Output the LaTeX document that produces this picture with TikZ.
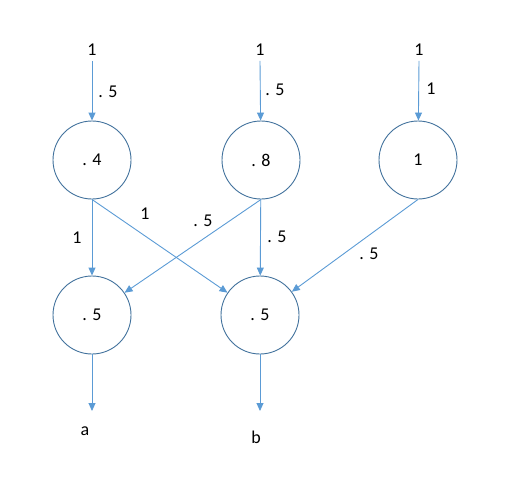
\documentclass[tikz,border=0pt]{standalone}
\usepackage{fontspec}
\setmainfont{Carlito}
\usetikzlibrary{arrows.meta}
\definecolor{circ}{HTML}{41719C}
\definecolor{arr}{HTML}{5B9BD5}
\begin{document}
\begin{tikzpicture}[x=1pt,y=-1pt,
  neuron/.style={circle,draw=circ,line width=0.9pt,minimum size=78pt,inner sep=0pt,font=\fontsize{18}{20}\selectfont},
  lbl/.style={inner sep=0pt,font=\fontsize{18}{20}\selectfont},
  conn/.style={draw=arr,line width=0.9pt,-{Triangle[length=8pt,width=7pt]}}]
\useasboundingbox (0,0) rectangle (508,480);
\node[neuron] (t1) at (92,160) {. 4};
\node[neuron] (t2) at (261,160) {. 8};
\node[neuron] (t3) at (418,160) {1};
\node[neuron] (b1) at (92,315) {. 5};
\node[neuron] (b2) at (260,315) {. 5};
\node[lbl] (i1) at (92,50) {1};
\node[lbl] (i2) at (260,50) {1};
\node[lbl] (i3) at (419,50) {1};
\node[lbl] (oa) at (85,431) {a};
\node[lbl] (ob) at (256,437) {b};
\coordinate (e1) at (92,411);
\coordinate (e2) at (260,411);
\draw[conn] (i1.south) ++(0,5) coordinate (s1) -- (t1);
\draw[conn] (i2.south) ++(0,5) coordinate (s2) -- (t2);
\draw[conn] (i3.south) ++(0,5) coordinate (s3) -- (t3);
\draw[conn] (t1) -- (b1);
\draw[conn] (t1.south) -- (b2);
\draw[conn] (t2.south) -- (b1);
\draw[conn] (t2) -- (b2);
\draw[conn] (t3.south) -- (b2);
\draw[conn] (b1) -- (e1);
\draw[conn] (b2) -- (e2);
\node[lbl] at (108,92) {. 5};
\node[lbl] at (275,90) {. 5};
\node[lbl] at (431,89) {1};
\node[lbl] at (77,238) {1};
\node[lbl] at (145,214) {1};
\node[lbl] at (203,221) {. 5};
\node[lbl] at (277,237) {. 5};
\node[lbl] at (369,254) {. 5};
\end{tikzpicture}
\end{document}
